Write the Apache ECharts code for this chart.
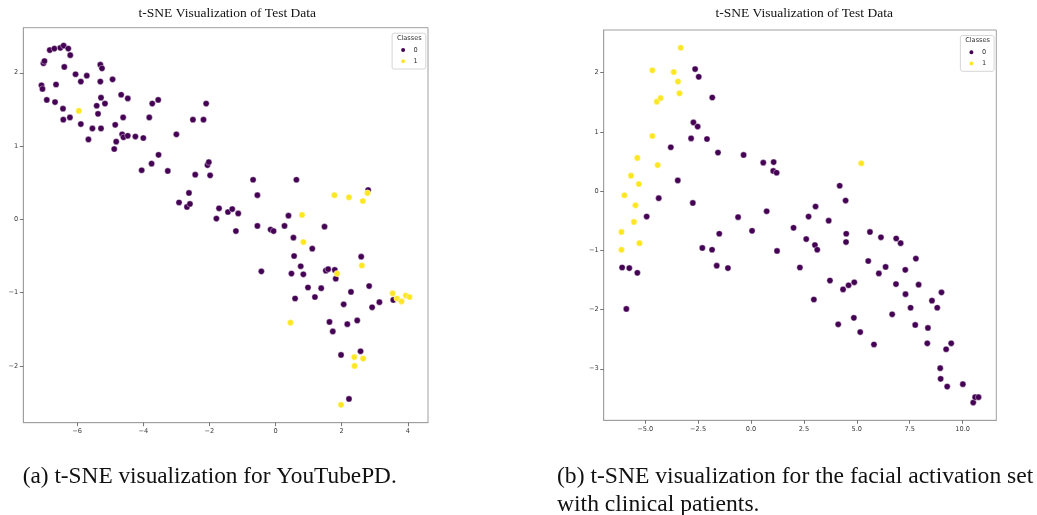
<!DOCTYPE html>
<html>
<head>
<meta charset="utf-8">
<script src="https://cdn.jsdelivr.net/npm/echarts@6/dist/echarts.min.js"></script>
<style>
html,body{margin:0;padding:0;background:#fff;}
#chart{width:1037px;height:515px;}
</style>
</head>
<body>
<div id="chart"></div>
<script>
// ---------- DATA ----------
const plotTitle = 't-SNE Visualization of Test Data';
const legendTitle = 'Classes';
const classNames = ['0', '1'];
const captionA = '(a) t-SNE visualization for YouTubePD.';
const captionB1 = '(b) t-SNE visualization for the facial activation set';
const captionB2 = 'with clinical patients.';

// (a) YouTubePD  [x, y]
const leftClass0 = [[-7.08,1.83],[-7.05,1.78],[-7.02,2.13],[-6.99,2.16],[-6.92,1.63],[-6.83,2.31],[-6.69,2.33],[-6.67,1.60],[-6.64,1.84],[-6.51,2.34],[-6.41,2.37],[-6.27,2.33],[-6.21,2.24],[-6.39,2.08],[-6.43,1.51],[-6.42,1.36],[-6.22,1.39],[-6.05,1.98],[-5.89,1.88],[-5.71,1.96],[-5.89,1.30],[-5.66,1.09],[-5.54,1.24],[-5.41,1.55],[-5.37,1.44],[-5.30,2.11],[-5.25,2.06],[-5.30,1.88],[-5.28,1.66],[-5.16,1.58],[-5.28,1.24],[-4.93,1.91],[-4.88,0.96],[-4.85,1.29],[-4.82,1.06],[-4.67,1.70],[-4.61,1.39],[-4.47,1.65],[-4.64,1.16],[-4.60,1.12],[-4.47,1.14],[-4.24,1.13],[-4.00,1.11],[-4.05,0.67],[-3.82,1.39],[-3.73,1.58],[-3.55,1.63],[-3.75,0.76],[-3.54,0.88],[-3.26,0.66],[-3.00,1.16],[-2.62,0.36],[-2.92,0.23],[-2.68,0.17],[-2.59,0.21],[-2.50,1.36],[-2.43,0.61],[-2.18,1.36],[-2.10,1.58],[-2.06,0.74],[-2.02,0.78],[-1.98,0.60],[-1.71,0.15],[-1.79,0.01],[-1.44,0.10],[-1.31,0.14],[-1.13,0.08],[-0.68,0.54],[-0.55,0.33],[0.63,0.54],[0.39,0.05],[2.80,0.40],[-1.20,-0.16],[-0.55,-0.09],[-0.15,-0.14],[-0.06,-0.16],[0.27,-0.09],[1.48,-0.10],[0.54,-0.25],[1.11,-0.40],[0.56,-0.50],[2.59,-0.51],[-0.43,-0.71],[0.48,-0.74],[0.76,-0.64],[0.84,-0.75],[1.52,-0.70],[1.59,-0.68],[1.79,-0.69],[1.82,-0.81],[0.98,-0.93],[1.38,-0.94],[0.59,-1.08],[1.19,-1.06],[2.28,-0.99],[2.83,-0.91],[2.06,-1.16],[2.92,-1.20],[3.14,-1.13],[3.56,-1.10],[1.63,-1.40],[1.73,-1.53],[2.17,-1.43],[2.47,-1.38],[1.98,-1.85],[2.57,-1.80],[2.22,-2.45]];
const leftClass1 = [[-5.95,1.48],[0.80,0.06],[1.78,0.33],[2.22,0.30],[2.64,0.25],[2.78,0.36],[0.84,-0.31],[2.61,-0.63],[1.86,-0.74],[0.45,-1.41],[3.54,-1.01],[3.67,-1.08],[3.81,-1.12],[3.94,-1.04],[4.05,-1.06],[2.38,-1.88],[2.65,-1.90],[2.39,-2.00],[1.98,-2.53]];

// (b) facial activation set  [x, y]
const rightClass0 = [[-2.64,2.06],[-2.47,1.93],[-1.83,1.58],[-2.72,1.16],[-2.52,1.09],[-2.83,0.89],[-2.08,0.88],[-3.79,0.74],[-1.56,0.65],[-0.35,0.61],[0.58,0.48],[1.07,0.49],[1.05,0.34],[1.21,0.31],[-3.46,0.18],[4.19,0.09],[-4.36,-0.12],[-2.75,-0.20],[4.47,-0.16],[0.74,-0.34],[3.05,-0.26],[2.72,-0.43],[-0.61,-0.44],[-4.93,-0.43],[3.67,-0.50],[-1.50,-0.72],[0.05,-0.67],[2.01,-0.62],[-2.30,-0.96],[-1.84,-0.99],[1.23,-1.01],[2.61,-0.81],[3.02,-0.91],[3.13,-0.99],[4.50,-0.72],[4.49,-0.86],[5.62,-0.69],[6.14,-0.78],[6.86,-0.80],[7.07,-0.88],[7.79,-1.14],[5.54,-1.18],[6.04,-1.39],[6.36,-1.28],[7.29,-1.33],[-6.09,-1.29],[-5.75,-1.30],[-5.37,-1.38],[-1.62,-1.26],[-1.09,-1.30],[2.31,-1.29],[-5.89,-1.99],[3.73,-1.51],[4.35,-1.66],[4.61,-1.59],[4.88,-1.54],[6.85,-1.57],[7.30,-1.74],[7.92,-1.58],[2.97,-1.83],[8.55,-1.85],[9.00,-1.71],[7.54,-1.97],[8.80,-1.97],[6.67,-2.08],[4.86,-2.14],[4.12,-2.25],[7.76,-2.26],[8.36,-2.31],[5.16,-2.38],[5.81,-2.59],[8.33,-2.57],[9.46,-2.57],[9.22,-2.67],[8.94,-2.99],[8.96,-3.17],[9.27,-3.30],[10.01,-3.26],[10.50,-3.57],[10.59,-3.48],[10.75,-3.48]];
const rightClass1 = [[-3.32,2.42],[-4.66,2.04],[-3.65,2.01],[-3.45,1.85],[-3.38,1.65],[-4.45,1.51],[-4.27,1.57],[-4.66,0.93],[-5.37,0.56],[-4.41,0.44],[-5.67,0.26],[-5.30,0.12],[-5.98,-0.07],[-5.46,-0.24],[5.21,0.47],[-5.53,-0.52],[-6.12,-0.69],[-6.12,-0.99],[-5.27,-0.88]];

// axis ranges and ticks
const leftXRange = [-7.63, 4.61];
const leftYRange = [-2.775, 2.615];
const rightXRange = [-6.96, 11.59];
const rightYRange = [-3.87, 2.72];
const leftXTicks = [-6, -4, -2, 0, 2, 4];
const leftXTickLabels = ['\u22126', '\u22124', '\u22122', '0', '2', '4'];
const leftYTicks = [-2, -1, 0, 1, 2];
const leftYTickLabels = ['\u22122', '\u22121', '0', '1', '2'];
const rightXTicks = [-5, -2.5, 0, 2.5, 5, 7.5, 10];
const rightXTickLabels = ['\u22125.0', '\u22122.5', '0.0', '2.5', '5.0', '7.5', '10.0'];
const rightYTicks = [-3, -2, -1, 0, 1, 2];
const rightYTickLabels = ['\u22123', '\u22122', '\u22121', '0', '1', '2'];

const classColors = ['#440154', '#fde725'];

// ---------- LAYOUT ----------
const grids = [
  {left: 23.3, top: 27.7, width: 404.7, height: 395},
  {left: 603.7, top: 30, width: 392.6, height: 390.3}
];
const frameColor = '#a0a0a0';
const tickFont = {fontFamily: 'DejaVu Sans', fontSize: 6.6, color: '#3a3a3a'};

function makeAxis(kind, gi, range, ticks, labels) {
  return {
    type: 'value', gridIndex: gi, min: range[0], max: range[1],
    axisLine: {show: true, onZero: false, lineStyle: {color: frameColor, width: 1}},
    axisTick: {show: true, length: 3.5, customValues: ticks, lineStyle: {color: '#555', width: 0.8}},
    axisLabel: Object.assign({
      show: true, margin: 5, customValues: ticks,
      formatter: function (v) {
        for (let i = 0; i < ticks.length; i++) if (Math.abs(ticks[i] - v) < 1e-6) return labels[i];
        return '';
      }
    }, tickFont),
    splitLine: {show: false}
  };
}

function legendFor(gi, id) {
  const g = grids[gi];
  const rightEdge = g.left + g.width - 2.2;
  return {
    id: id, data: classNames, orient: 'vertical',
    right: 1037 - rightEdge, top: g.top + 5.5,
    icon: 'circle', itemWidth: 6, itemHeight: 6, itemGap: 3.3,
    padding: [12.8, 8, 3.7, 7],
    borderColor: '#cccccc', borderWidth: 0.8, borderRadius: 2,
    backgroundColor: 'rgba(255,255,255,0.8)',
    selectedMode: false,
    textStyle: {fontFamily: 'DejaVu Sans', fontSize: 6.6, color: '#333', padding: [0, 0, 0, 2.5]}
  };
}

function legendTitleText(gi) {
  const g = grids[gi];
  const rightEdge = g.left + g.width - 2.2;
  return {
    type: 'text', x: rightEdge - 16.5, y: g.top + 10.6, z: 100,
    style: {text: legendTitle, fontFamily: 'DejaVu Sans', fontSize: 6.6, fill: '#333',
            textAlign: 'center', textVerticalAlign: 'middle', align: 'center', verticalAlign: 'middle'}
  };
}

function seriesFor(gi, data, cls) {
  return {
    type: 'scatter', name: classNames[cls], xAxisIndex: gi, yAxisIndex: gi,
    data: data, symbol: 'circle', symbolSize: 6.2,
    itemStyle: {color: classColors[cls], borderColor: '#ffffff', borderWidth: 0.4, opacity: 1},
    emphasis: {disabled: true}, animation: false, z: 2 + cls
  };
}

function textEl(str, x, y, size, align, font) {
  return {
    type: 'text', x: x, y: y,
    style: {text: str, fontFamily: font, fontSize: size, fill: '#111',
            align: align, verticalAlign: 'middle', textAlign: align, textVerticalAlign: 'middle'}
  };
}

const chart = echarts.init(document.getElementById('chart'), null, {renderer: 'canvas'});
chart.setOption({
  backgroundColor: '#ffffff',
  animation: false,
  grid: grids.map(g => Object.assign({show: true, borderColor: frameColor, borderWidth: 1, backgroundColor: '#fff', containLabel: false}, g)),
  xAxis: [
    makeAxis('x', 0, leftXRange, leftXTicks, leftXTickLabels),
    makeAxis('x', 1, rightXRange, rightXTicks, rightXTickLabels)
  ],
  yAxis: [
    makeAxis('y', 0, leftYRange, leftYTicks, leftYTickLabels),
    makeAxis('y', 1, rightYRange, rightYTicks, rightYTickLabels)
  ],
  legend: [legendFor(0, 'lg0'), legendFor(1, 'lg1')],
  series: [
    seriesFor(0, leftClass0, 0), seriesFor(0, leftClass1, 1),
    seriesFor(1, rightClass0, 0), seriesFor(1, rightClass1, 1)
  ],
  graphic: [
    textEl(plotTitle, 227.3, 13, 13.5, 'center', 'Liberation Serif'),
    textEl(plotTitle, 804.2, 13, 13.5, 'center', 'Liberation Serif'),
    legendTitleText(0), legendTitleText(1),
    textEl(captionA, 22.7, 476.5, 23.3, 'left', 'Liberation Serif'),
    textEl(captionB1, 557, 476.5, 23.6, 'left', 'Liberation Serif'),
    textEl(captionB2, 557, 505, 23.6, 'left', 'Liberation Serif')
  ]
});
</script>
</body>
</html>
